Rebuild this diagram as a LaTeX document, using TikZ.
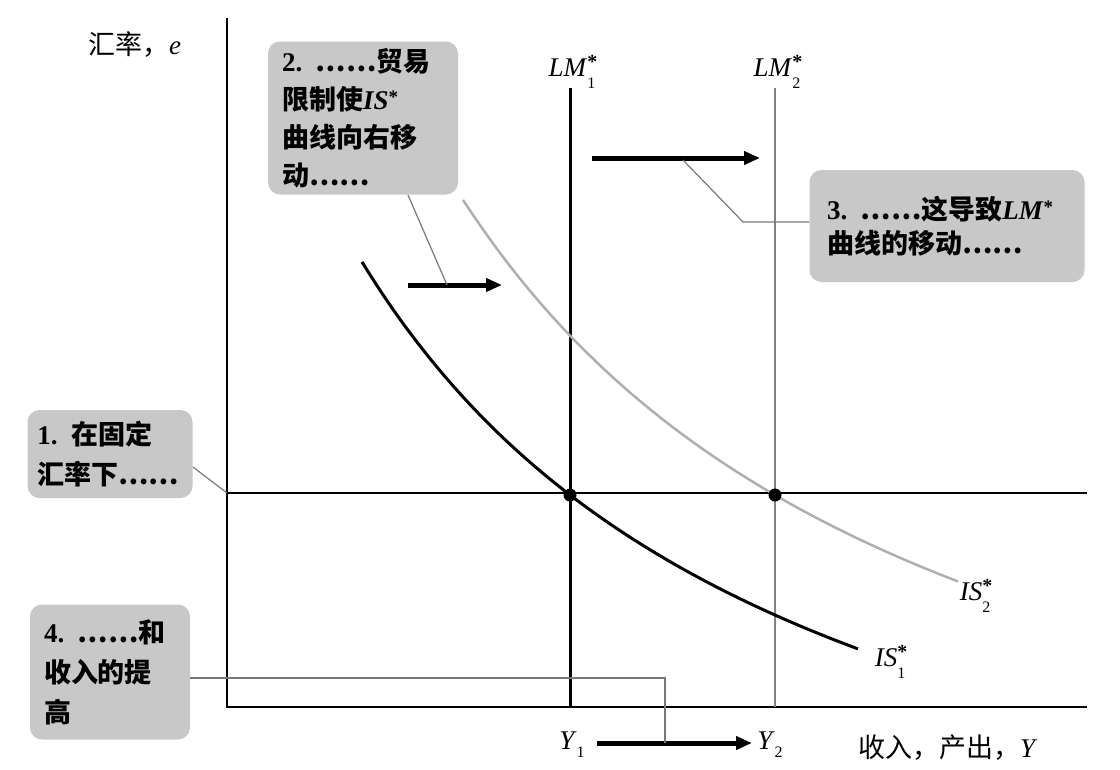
\documentclass[tikz,border=0pt]{standalone}
\usepackage{fontspec}
\setmainfont{Liberation Serif}
\newfontfamily\cjk{Noto Sans CJK SC}
\newcommand{\zh}[1]{{\cjk #1}}
\newcommand{\symlab}[3]{\textit{#1}\rlap{\raisebox{0.3em}{\fontsize{20}{20}\selectfont\bfseries #2}}\raisebox{-0.42em}{\fontsize{16}{16}\selectfont #3}}
\newcommand{\symst}[1]{\textit{#1}\raisebox{0.2em}{\fontsize{19}{19}\selectfont *}}
\newcommand{\symsub}[2]{\textit{#1}\raisebox{-0.3em}{\fontsize{16}{16}\selectfont #2}}
\usetikzlibrary{arrows.meta}
\definecolor{boxgray}{RGB}{200,200,200}
\definecolor{leadgray}{RGB}{120,120,120}
\definecolor{curvegray}{RGB}{175,175,175}
\definecolor{lmgray}{RGB}{130,130,130}
\begin{document}
\begin{tikzpicture}[x=1pt,y=-1pt,
  note/.style={fill=boxgray, rounded corners=12pt, align=left, inner sep=0pt,
    font=\fontsize{27}{38}\selectfont\bfseries},
  axis/.style={line width=2pt, black},
  lead/.style={line width=1.2pt, leadgray},
  movearrow/.style={line width=5pt, -{Triangle[length=16pt,width=13pt]}},
  dot/.style={circle, fill=black, inner sep=0pt, minimum size=13pt},
  lbl/.style={font=\fontsize{27}{30}\selectfont, inner sep=0pt}]
\useasboundingbox (0,0) rectangle (1120,769);

% axes
\coordinate (O) at (227,707);
\coordinate (Ytop) at (227,18);
\coordinate (Xend) at (1087,707);
\draw[axis] (Ytop) -- (O) -- (Xend);

% fixed exchange rate line
\coordinate (eL) at (227,493);
\coordinate (eR) at (1087,493);
\draw[axis] (eL) -- (eR);

% LM curves
\coordinate (LM1t) at (570,88);
\coordinate (LM1b) at (570,707);
\coordinate (LM2t) at (775,88);
\coordinate (LM2b) at (775,707);
\draw[line width=3pt] (LM1t) -- (LM1b);
\draw[line width=1.5pt, lmgray] (LM2t) -- (LM2b);

% IS curves (hyperbolas)
\draw[line width=2.5pt, curvegray] plot[domain=463:958, samples=80]
  ({\x}, {961.5 - 375.5/((\x+30)/1000)});
\draw[line width=3pt] plot[domain=362:858, samples=80]
  ({\x}, {1001.5 - 334.3/((\x+90)/1000)});

% equilibria
\node[dot] (E1) at (570,495) {};
\node[dot] (E2) at (775,495) {};

% labels
\node[lbl, anchor=west] (ylab) at (88,45) {\zh{汇率，}\textit{e}};
\node[lbl, anchor=west] (xlab) at (858,748) {\zh{收入，产出，}\textit{Y}};
\node[lbl] (lm1) at (572,72) {\symlab{LM}{*}{1}};
\node[lbl] (lm2) at (777,72) {\symlab{LM}{*}{2}};
\node[lbl] (is1) at (890,662) {\symlab{IS}{*}{1}};
\node[lbl] (is2) at (975,596) {\symlab{IS}{*}{2}};
\node[lbl] (y1) at (572,745) {\symsub{Y}{1}};
\node[lbl] (y2) at (770,745) {\symsub{Y}{2}};

% shift arrows
\coordinate (a1s) at (408,285); \coordinate (a1e) at (502,285);
\coordinate (a2s) at (592,158); \coordinate (a2e) at (760,158);
\coordinate (a3s) at (597,743); \coordinate (a3e) at (752,743);
\draw[movearrow] (a1s) -- (a1e);
\draw[movearrow] (a2s) -- (a2e);
\draw[movearrow] (a3s) -- (a3e);

% notes
\node[note, minimum width=190pt, minimum height=153pt, text width=162pt] (n2) at (363,118)
  {2. \zh{……贸易}\\\zh{限制使}\symst{IS}\\\zh{曲线向右移}\\\zh{动……}};
\node[note, minimum width=275pt, minimum height=112pt, text width=240pt,
  font=\fontsize{27}{34}\selectfont\bfseries] (n3) at (947,226)
  {3. \zh{……这导致}\symst{LM}\\\zh{曲线的移动……}};
\node[note, minimum width=165pt, minimum height=88pt, text width=145pt,
  font=\fontsize{27}{40}\selectfont\bfseries] (n1) at (110,454)
  {1. \zh{在固定}\\\zh{汇率下……}};
\node[note, minimum width=160pt, minimum height=135pt, text width=132pt,
  font=\fontsize{27}{40}\selectfont\bfseries] (n4) at (110,672)
  {4. \zh{……和}\\\zh{收入的提}\\\zh{高}};

% leaders
\coordinate (c2a) at (408,195);
\coordinate (c2b) at (447,285);
\draw[lead] (c2a) -- (c2b);
\coordinate (c3a) at (683,160);
\coordinate (c3b) at (743,222);
\draw[lead] (c3a) -- (c3b) -- (n3.west |- c3b);
\coordinate (c1a) at (193,467);
\draw[lead] (c1a) -- (eL);
\coordinate (c4b) at (665,678);
\coordinate (c4c) at (665,743);
\draw[lead] (n4.east |- c4b) -- (c4b) -- (c4c);
\end{tikzpicture}
\end{document}
